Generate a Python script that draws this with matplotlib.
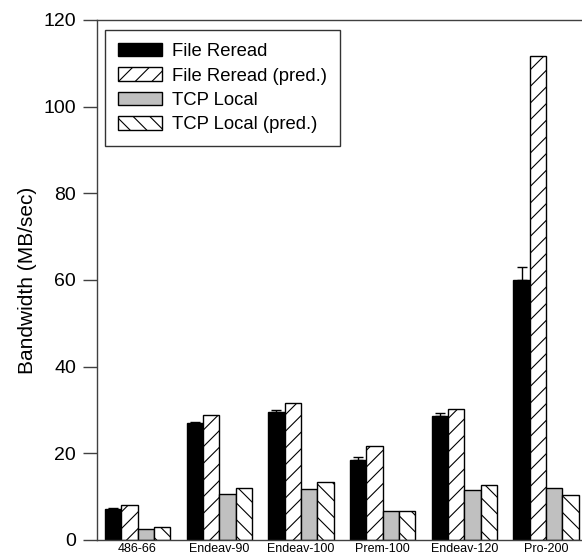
import numpy as np
import matplotlib.pyplot as plt

plt.rcParams['font.family'] = ['Liberation Sans', 'DejaVu Sans']
plt.rcParams['hatch.linewidth'] = 0.8

machines = ["486-66", "Endeav-90", "Endeav-100", "Prem-100", "Endeav-120", "Pro-200"]
series = ["File Reread", "File Reread (pred.)", "TCP Local", "TCP Local (pred.)"]
file_reread = [7.2, 26.9, 29.6, 18.4, 28.7, 60.1]
file_reread_err = [0.3, 0.4, 0.4, 0.7, 0.5, 2.9]
file_reread_pred = [8.1, 28.8, 31.7, 21.8, 30.3, 111.6]
tcp_local = [2.6, 10.7, 11.8, 6.8, 11.5, 11.9]
tcp_local_pred = [3.1, 12.0, 13.3, 6.8, 12.8, 10.3]
yticks = [0, 20, 40, 60, 80, 100, 120]

fig = plt.figure(figsize=(5.82, 5.56), dpi=100)
ax = fig.add_axes([97 / 582, 1 - 540 / 556, 1 - 97 / 582, (540 - 20) / 556])

x = np.arange(len(machines))
w = 0.2
styles = [
    dict(color="black", edgecolor="black"),
    dict(color="white", edgecolor="black", hatch="//"),
    dict(color="#c0c0c0", edgecolor="black"),
    dict(color="white", edgecolor="black", hatch="\\\\"),
]
values = [file_reread, file_reread_pred, tcp_local, tcp_local_pred]
for i, (vals, st, name) in enumerate(zip(values, styles, series)):
    ax.bar(x + (i - 1.5) * w, vals, w, linewidth=1, label=name, **st)

ax.errorbar(x - 1.5 * w, file_reread,
            yerr=[np.zeros(len(file_reread)), file_reread_err],
            fmt="none", ecolor="black", elinewidth=1, capsize=3.6, capthick=1)

ax.set_xlim(-0.496, 5.44)
ax.set_ylim(0, 120)
ax.set_yticks(yticks)
ax.set_xticks(x)
ax.set_xticklabels(machines, fontsize=9)
ax.tick_params(axis="x", length=0, pad=2)
ax.tick_params(axis="y", direction="out", length=10, width=1, labelsize=14,
               colors="#404040", labelcolor="black", pad=5)
ax.set_ylabel("Bandwidth (MB/sec)", fontsize=15, labelpad=5)

for s in ["left", "top", "bottom"]:
    ax.spines[s].set_color("#404040")
    ax.spines[s].set_linewidth(1)
ax.spines["right"].set_visible(False)

leg = ax.legend(loc="upper left", bbox_to_anchor=(8 / 485, 1 - 10 / 520),
                borderaxespad=0, fontsize=13.3,
                frameon=True, fancybox=False, edgecolor="black",
                handlelength=2.4, handleheight=0.75, labelspacing=0.39,
                borderpad=0.7, handletextpad=0.55)
leg.get_frame().set_linewidth(1)

fig.savefig("out.png", dpi=100)
